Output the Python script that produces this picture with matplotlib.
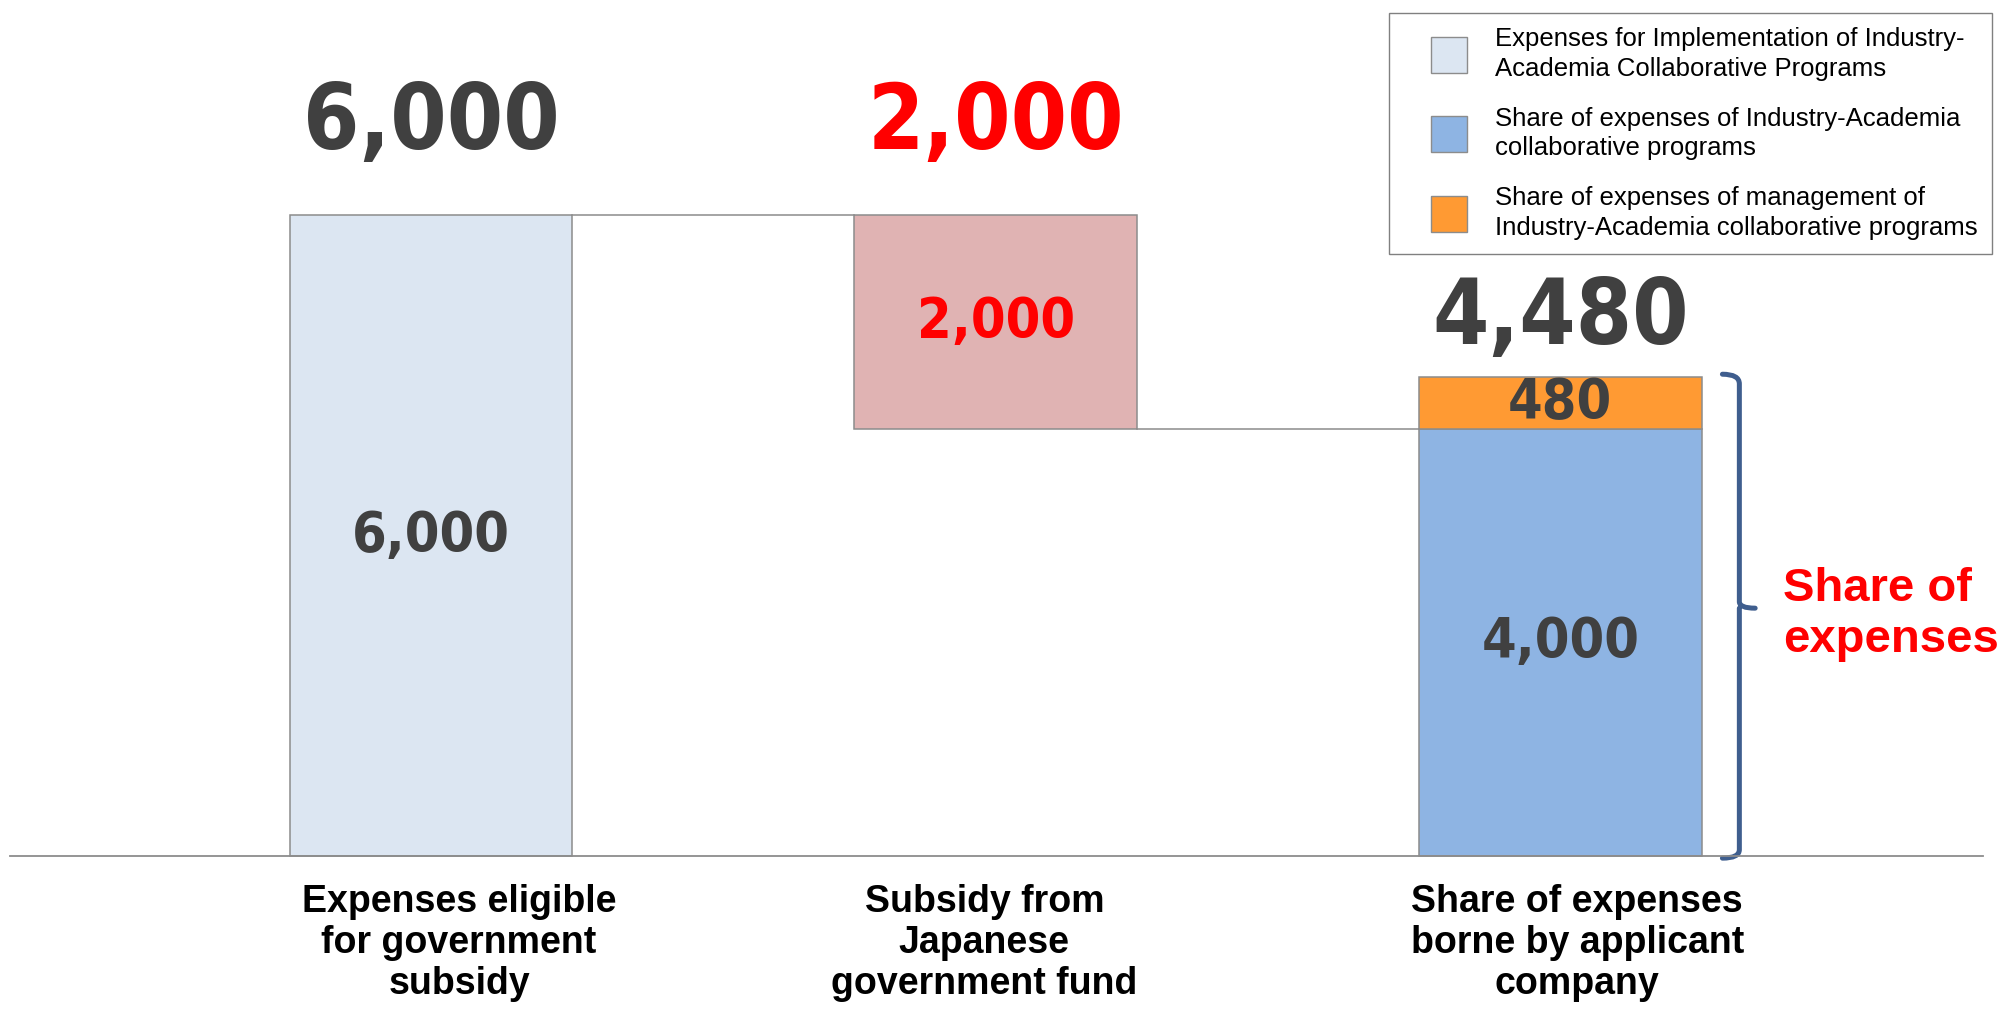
import numpy as np
import matplotlib.pyplot as plt
from matplotlib.patches import Patch, Rectangle
from matplotlib.path import Path
from matplotlib.patches import PathPatch
from matplotlib.legend_handler import HandlerPatch

# данные
categories = ['Expenses eligible\nfor government\nsubsidy',
              'Subsidy from\nJapanese\ngovernment fund',
              'Share of expenses\nborne by applicant\ncompany']
eligible = 6000
subsidy = 2000
company_programs = 4000
company_management = 480
company_total = company_programs + company_management

legend_labels = ['Expenses for Implementation of Industry-\nAcademia Collaborative Programs',
                 'Share of expenses of Industry-Academia\ncollaborative programs',
                 'Share of expenses of management of\nIndustry-Academia collaborative programs']

c_light = '#DCE6F2'
c_red = '#E0B3B3'
c_blue = '#8EB4E3'
c_orange = '#FF9A33'
c_edge = '#8C8C8C'
c_dark = '#404040'
c_text_red = '#FF0000'

num_font = dict(family='DejaVu Sans', fontstretch='condensed', fontweight='bold')
cat_font = dict(family='Liberation Sans', fontweight='bold')

fig = plt.figure(figsize=(19.98, 10.09), dpi=100)
ax = fig.add_axes([0, 0, 1, 1])
ax.set_xlim(-0.763, 2.775)
ax.set_ylim(-1432, 8013)
ax.axis('off')

x = np.arange(3)
w = 0.5
ax.bar(x[0], eligible, w, color=c_light, edgecolor=c_edge, lw=1.1)
ax.bar(x[1], subsidy, w, bottom=eligible - subsidy, color=c_red, edgecolor=c_edge, lw=1.1)
ax.bar(x[2], company_programs, w, color=c_blue, edgecolor=c_edge, lw=1.1)
ax.bar(x[2], company_management, w, bottom=company_programs, color=c_orange,
       edgecolor=c_edge, lw=1.1)

# соединительные линии
ax.plot([x[0] + w / 2, x[1] - w / 2], [eligible, eligible], color=c_edge, lw=1.1)
ax.plot([x[1] + w / 2, x[2] - w / 2], [eligible - subsidy] * 2, color=c_edge, lw=1.1)
ax.axhline(0, xmin=10 / 1998, xmax=1983 / 1998, color=c_edge, lw=1.3)

# подписи внутри
ax.text(x[0], eligible / 2, f'{eligible:,}', ha='center', va='center', fontsize=40,
        color=c_dark, **num_font)
ax.text(x[1], eligible - subsidy / 2, f'{subsidy:,}', ha='center', va='center', fontsize=40,
        color=c_text_red, **num_font)
ax.text(x[2], company_programs / 2, f'{company_programs:,}', ha='center', va='center',
        fontsize=40, color=c_dark, **num_font)
ax.text(x[2], company_programs + company_management / 2, f'{company_management:,}',
        ha='center', va='center', fontsize=40, color=c_dark, **num_font)

# большие подписи сверху
ax.text(x[0], eligible + 850, f'{eligible:,}', ha='center', va='center', fontsize=65,
        color=c_dark, **num_font)
ax.text(x[1], eligible + 850, f'{subsidy:,}', ha='center', va='center', fontsize=65,
        color=c_text_red, **num_font)
ax.text(x[2], company_total + 550, f'{company_total:,}', ha='center', va='center',
        fontsize=65, color=c_dark, **num_font)

# подписи категорий
offsets = [0.05, -0.02, 0.03]
for xi, lab, off in zip(x, categories, offsets):
    ax.text(xi + off, -262, lab, ha='center', va='top', fontsize=27, color='black',
            linespacing=1.17, **cat_font)

# фигурная скобка
bx = x[2] + 0.317
mid = company_total / 2 + 80
verts = [(bx - 0.03, company_total + 30), (bx, company_total + 30), (bx, company_total - 60),
         (bx, mid + 60), (bx, mid), (bx + 0.028, mid),
         (bx, mid), (bx, mid - 60),
         (bx, 60), (bx, -20), (bx - 0.03, -20)]
codes = [Path.MOVETO, Path.CURVE3, Path.CURVE3, Path.LINETO, Path.CURVE3, Path.CURVE3,
         Path.MOVETO, Path.CURVE3, Path.LINETO, Path.CURVE3, Path.CURVE3]
ax.add_patch(PathPatch(Path(verts, codes), fill=False, edgecolor='#3F5E8E', lw=3.6,
                       capstyle='round', joinstyle='round'))

ax.text(x[2] + 0.395, company_total / 2 + 20, 'Share of\nexpenses', ha='left', va='center',
        fontsize=34, color=c_text_red, linespacing=1.2,
        family='Liberation Sans', fontweight='bold')


# легенда
def square_patch(legend, orig_handle, xdescent, ydescent, width, height, fontsize):
    side = 0.72 * fontsize * 1.95
    return Rectangle((width - side - xdescent, -ydescent + (height - side) / 2), side, side)


handles = [Patch(facecolor=c_light, edgecolor=c_edge),
           Patch(facecolor=c_blue, edgecolor=c_edge),
           Patch(facecolor=c_orange, edgecolor=c_edge)]
leg = fig.legend(handles, legend_labels, loc='upper right',
                 bbox_to_anchor=(1992 / 1998, 1 - 13 / 1009), bbox_transform=fig.transFigure,
                 prop=dict(family='Liberation Sans', size=18.5),
                 frameon=True, fancybox=False, edgecolor='#808080', framealpha=1,
                 borderpad=0.55, borderaxespad=0, labelspacing=1.0,
                 handlelength=2.5, handleheight=1.6, handletextpad=1.1,
                 handler_map={Patch: HandlerPatch(patch_func=square_patch)})
leg.get_frame().set_linewidth(1.0)
for t in leg.get_texts():
    t.set_linespacing(1.3)

fig.savefig('out.png', dpi=100)
